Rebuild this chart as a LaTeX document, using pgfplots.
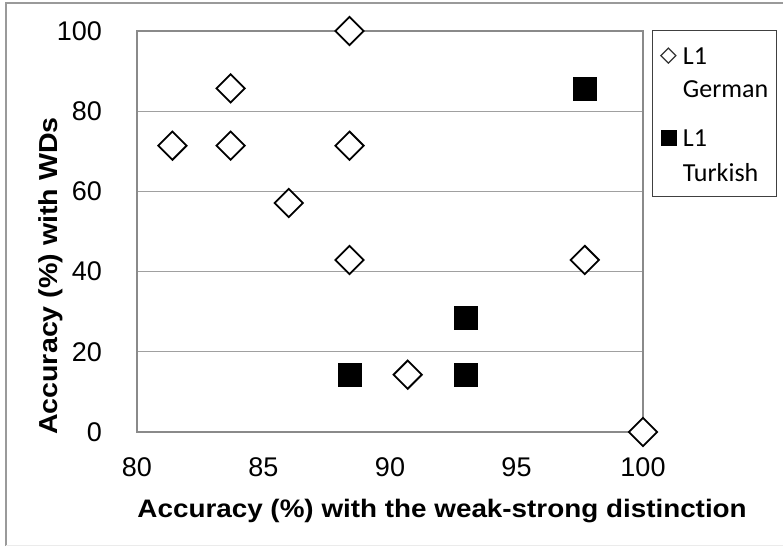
\documentclass[border=0pt]{standalone}
\usepackage{fontspec}
\setmainfont{Liberation Sans}
\newfontfamily\legfont{Carlito}
\newfontfamily\labfont[FakeStretch=1.1]{Liberation Sans Bold}
\usepackage{pgfplots}
\pgfplotsset{compat=1.18}
\definecolor{axgray}{HTML}{8A8A8A}
\definecolor{grgray}{HTML}{A0A0A0}
\definecolor{frgray}{HTML}{9A9A9A}
\begin{document}
\begin{tikzpicture}
\path[use as bounding box] (0,0) rectangle (783pt,546pt);
\draw[frgray, line width=2pt] (6pt,0pt) -- (6pt,543pt) -- (783pt,543pt);
\draw[black!8, line width=1pt] (6pt,1pt) -- (783pt,1pt);
\begin{axis}[
  at={(137pt,114pt)}, anchor=south west,
  scale only axis, width=506pt, height=401pt,
  xmin=80, xmax=100, ymin=0, ymax=100,
  xtick={80,85,90,95,100}, ytick={0,20,40,60,80,100},
  major tick length=0pt,
  clip=false,
  axis line style={axgray, line width=1.3pt},
  ymajorgrids, grid style={grgray, line width=1.2pt},
  /pgf/number format/assume math mode=true,
  tick label style={font=\fontsize{27}{30}\selectfont, inner sep=0pt},
  yticklabel style={anchor=east, xshift=-35pt},
  xticklabel style={anchor=north, yshift=-25pt},
  xlabel={Accuracy (\%) with the weak-strong distinction},
  ylabel={Accuracy (\%) with WDs},
  xlabel style={font=\labfont\fontsize{25.3}{30}\selectfont, inner sep=0pt,
    at={(axis description cs:0.603,-0.212)}, anchor=base},
  ylabel style={font=\labfont\fontsize{26}{30}\selectfont, inner sep=0pt,
    at={(axis description cs:-0.158,0.389)}, anchor=base},
  legend style={at={(axis description cs:1.018,1.0025)}, anchor=north west,
    draw=black!75, line width=1.2pt, fill=white,
    inner xsep=8pt, inner ysep=13.5pt, row sep=0pt, column sep=7pt,
    font=\legfont\fontsize{26}{33}\selectfont,
    nodes={inner sep=0pt, anchor=base west}},
  legend cell align=left,
]
\addplot[only marks, mark=square*, mark size=10pt,
  mark options={rotate=45, fill=white, draw=black, line width=1.8pt},
  legend image code/.code={\draw[mark=square*, mark size=5.3pt,
    mark options={rotate=45, fill=white, draw=black!80, line width=1.2pt}]
    plot coordinates {(0pt,8.5pt)};}]
  coordinates {(81.4,71.4) (83.7,85.7) (83.7,71.4) (86.0,57.1) (88.4,100)
               (88.4,71.4) (88.4,42.9) (90.7,14.3) (97.7,42.9) (100,0)};
\addlegendentry[text height=20pt, text depth=13pt, anchor=base west]{L1}
\addlegendimage{empty legend}
\addlegendentry[text height=20pt, text depth=29pt, anchor=base west]{German}
\addplot[only marks, mark=square*, mark size=11.5pt,
  mark options={fill=black, draw=black, line width=0.6pt},
  legend image code/.code={\draw[mark=square*, mark size=7.6pt,
    mark options={fill=black, draw=black, line width=0.4pt}]
    plot coordinates {(0pt,8.5pt)};}]
  coordinates {(88.4,14.3) (93.0,28.6) (93.0,14.3) (97.7,85.7)};
\addlegendentry[text height=20pt, text depth=15pt, anchor=base west]{L1}
\addlegendimage{empty legend}
\addlegendentry[text height=20pt, text depth=2pt, anchor=base west]{Turkish}
\end{axis}
\end{tikzpicture}
\end{document}
